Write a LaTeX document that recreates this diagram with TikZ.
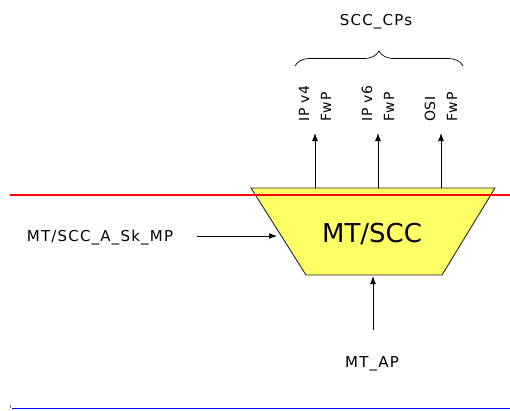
\documentclass[tikz,border=0pt]{standalone}
\usepackage{fontspec}
\setmainfont{DejaVu Sans}
\newfontfamily\lsfont{DejaVu Sans}[LetterSpace=8]
\newfontfamily\lsfontb{DejaVu Sans}[LetterSpace=5]
\usetikzlibrary{arrows.meta,decorations.pathreplacing}
\definecolor{trapfill}{HTML}{FFFF66}
\tikzset{
  lbl/.style={font=\lsfont\fontsize{15}{22}\selectfont, inner sep=0pt},
  rlbl/.style={font=\lsfontb\fontsize{14}{22}\selectfont, inner sep=0pt, rotate=90, anchor=west, align=left},
  arr/.style={line width=1pt, -{Latex[length=8pt,width=6pt]}},
}
\begin{document}
\begin{tikzpicture}[x=1pt,y=-1pt]
\useasboundingbox (0,0) rectangle (510,410);
% trapezoid
\coordinate (tl) at (251,188);
\coordinate (tr) at (495,188);
\coordinate (br) at (442,275);
\coordinate (bl) at (306,275);
\draw[fill=trapfill, draw=black!85, line width=0.9pt] (tl) -- (tr) -- (br) -- (bl) -- cycle;
% red line
\coordinate (r1) at (10,195);
\coordinate (r2) at (510,195);
\draw[red, line width=1.6pt] (r1) -- (r2);
\node[font=\fontsize{26}{30}\selectfont, anchor=base, inner sep=0pt] (mtscc) at (372,242) {MT/SCC};
% up arrows
\coordinate (a1) at (315,188);
\coordinate (a2) at (378,188);
\coordinate (a3) at (441,188);
\coordinate (t1) at (315,133);
\coordinate (t2) at (378,133);
\coordinate (t3) at (441,133);
\draw[arr] (a1) -- (t1);
\draw[arr] (a2) -- (t2);
\draw[arr] (a3) -- (t3);
\node[rlbl] (ipv4) at (315,122) {IP v4\\FwP};
\node[rlbl] (ipv6) at (378,122) {IP v6\\FwP};
\node[rlbl] (osi) at (441,122) {OSI\\FwP};
% brace
\coordinate (b1) at (295,66);
\coordinate (b2) at (463,66);
\draw[decorate, decoration={brace, amplitude=15pt}, line width=0.7pt] (b1) -- (b2);
\node[lbl, anchor=base] (cps) at (376,25) {SCC\_CPs};
% left input
\node[lbl, anchor=base] (sk) at (100,241) {MT/SCC\_A\_Sk\_MP};
\coordinate (skend) at (277,236);
\coordinate (skstart) at (197,236);
\draw[arr] (skstart) -- (skend);
% bottom input
\node[lbl, anchor=base] (ap) at (372,367) {MT\_AP};
\coordinate (apstart) at (373,330);
\coordinate (apend) at (373,276);
\draw[arr] (apstart) -- (apend);
% bottom line
\coordinate (bl1) at (12,408);
\coordinate (bl2) at (510,408);
\draw[blue, line width=1pt] (bl1) -- (bl2);
\draw[gray, line width=1pt] (10,405) -- (10,408);
\end{tikzpicture}
\end{document}
